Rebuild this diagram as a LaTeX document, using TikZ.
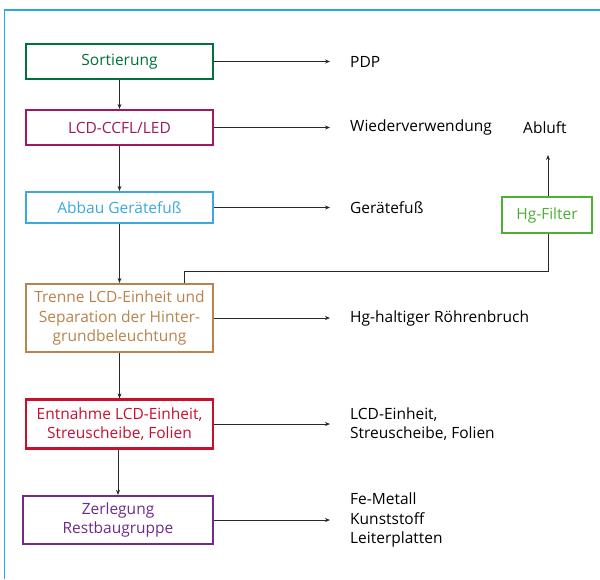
\documentclass[tikz,border=0pt]{standalone}
\usepackage{fontspec}
\setmainfont{Open Sans}
\usetikzlibrary{arrows.meta}
\definecolor{frameblue}{RGB}{40,168,224}
\definecolor{cgreen}{RGB}{0,112,60}
\definecolor{cmagenta}{RGB}{160,24,96}
\definecolor{cblue}{RGB}{58,170,222}
\definecolor{cbrown}{RGB}{184,132,76}
\definecolor{cred}{RGB}{200,16,46}
\definecolor{cpurple}{RGB}{110,44,140}
\definecolor{cltgreen}{RGB}{76,176,50}
\definecolor{lineg}{RGB}{40,40,40}
\tikzset{
  procbox/.style={draw, line width=2.2pt, fill=white, minimum width=187pt, align=center, font=\fontsize{15.5}{19.5}\selectfont, inner sep=1pt},
  outtxt/.style={anchor=west, align=left, font=\fontsize{15.5}{19.5}\selectfont, text=black, inner sep=0pt},
  conn/.style={draw=lineg, line width=0.9pt, -{Stealth[length=5pt,width=4pt]}},
  plain/.style={draw=lineg, line width=0.9pt}
}
\begin{document}
\begin{tikzpicture}[x=1pt,y=-1pt]
\useasboundingbox (0,0) rectangle (600,579);
\draw[frameblue, line width=1.2pt] (4.5,579) -- (4.5,10) -- (600,10);

\node[procbox, draw=cgreen, text=cgreen, minimum height=35pt] (s1) at (119.5,61.5) {Sortierung};
\node[procbox, draw=cmagenta, text=cmagenta, minimum height=35pt] (s2) at (119.5,127.5) {LCD-CCFL/LED};
\node[procbox, draw=cblue, text=cblue, minimum height=31pt] (s3) at (119.5,207.5) {Abbau Gerätefuß};
\node[procbox, draw=cbrown, text=cbrown, minimum height=68pt] (s4) at (119.5,318) {Trenne LCD-Einheit und\\Separation der Hinter-\\grundbeleuchtung};
\node[procbox, draw=cred, text=cred, minimum height=49pt] (s5) at (119.5,424) {Entnahme LCD-Einheit,\\Streuscheibe, Folien};
\node[procbox, draw=cpurple, text=cpurple, minimum height=48pt, minimum width=190pt] (s6) at (118,520) {Zerlegung\\Restbaugruppe};
\node[procbox, draw=cltgreen, text=cltgreen, minimum width=90pt, minimum height=36pt] (hg) at (547,215) {Hg-Filter};

\node[outtxt] (o1) at (350,61.5) {PDP};
\node[outtxt] (o2) at (350,127.5) {Wiederverwendung};
\node[outtxt] (ab) at (523,127.5) {Abluft};
\node[outtxt] (o3) at (350,207.5) {Gerätefuß};
\node[outtxt] (o4) at (350,318) {Hg-haltiger Röhrenbruch};
\node[outtxt] (o5) at (350,424) {LCD-Einheit,\\Streuscheibe, Folien};
\node[outtxt] (o6) at (350,520) {Fe-Metall\\Kunststoff\\Leiterplatten};

\coordinate (t1) at (330,61.5);
\coordinate (t2) at (330,127.5);
\coordinate (t3) at (330,207.5);
\coordinate (t4) at (330,318);
\coordinate (t5) at (330,424);
\coordinate (t6) at (330,520);
\coordinate (up) at (548,155);

\draw[conn] (s1.south) -- (s2.north);
\draw[conn] (s2.south) -- (s3.north);
\draw[conn] (s3.south) -- (s4.north);
\draw[conn] (s4.south) -- (s5.north);
\draw[conn] (s5.south -| s6.north) -- (s6.north);

\draw[conn] (s1.east) -- (t1);
\draw[conn] (s2.east) -- (t2);
\draw[conn] (s3.east) -- (t3);
\draw[conn] (s4.east) -- (t4);
\draw[conn] (s5.east) -- (t5);
\draw[conn] (s6.east) -- (t6);

\draw[plain] (s4.north -| 184,0) -- (184,271) -- (548,271) -- (hg.south -| 548,0);
\draw[conn] (hg.north -| 548,0) -- (up);
\end{tikzpicture}
\end{document}
